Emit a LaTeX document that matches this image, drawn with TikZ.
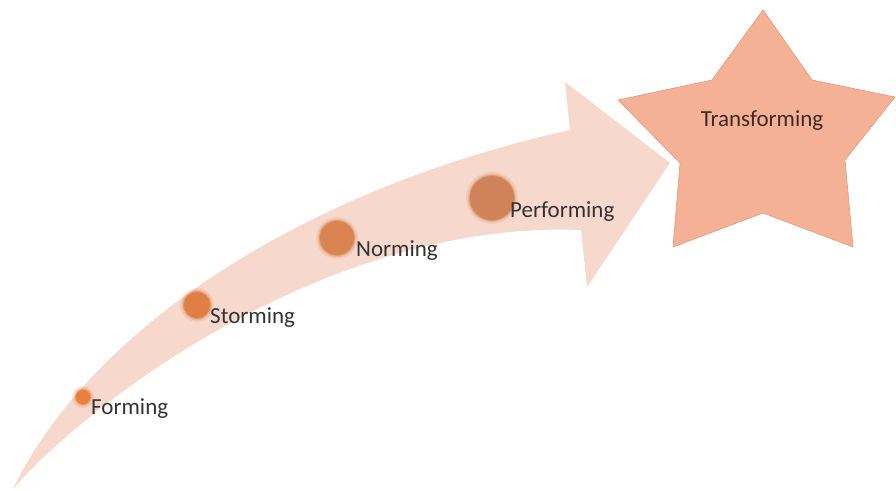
\documentclass[tikz,border=0pt]{standalone}
\usepackage{fontspec}
\setmainfont{Carlito}
\usetikzlibrary{shapes.geometric}
\definecolor{arrowfill}{HTML}{F7D8CC}
\definecolor{starfill}{HTML}{F4B196}
\definecolor{starline}{HTML}{E39A7C}
\definecolor{labelc}{HTML}{333333}
\definecolor{startext}{HTML}{3F2A22}
\definecolor{dotA}{HTML}{E9803F}
\definecolor{dotB}{HTML}{E07F45}
\definecolor{dotC}{HTML}{DA8551}
\definecolor{dotD}{HTML}{D08258}
\tikzset{
  lbl/.style={text=labelc, font=\fontsize{23}{27}\selectfont, inner sep=0pt},
  dotnode/.style={circle, inner sep=0pt, minimum size=#1},
}
\newcommand{\halodot}[4]{% name, x, y, radius, color via \dotcol
  \fill[\dotcol, opacity=0.15] (#2,#3) circle ({#4+4});
  \fill[\dotcol, opacity=0.28] (#2,#3) circle ({#4+2.2});
  \fill[\dotcol, opacity=0.55] (#2,#3) circle ({#4+0.9});
  \node[dotnode={2*#4}, fill=\dotcol] (#1) at (#2,#3) {};
}
\begin{document}
\begin{tikzpicture}[x=1pt,y=-1pt]
\useasboundingbox (0,0) rectangle (896,490);
% curved arrow
\fill[arrowfill] (13,489)
  .. controls (90,330) and (300,190) .. (570,130)
  -- (565,82) -- (670,163) -- (587,287) -- (581,230)
  .. controls (330,220) and (90,400) .. (13,489) -- cycle;
% star
\filldraw[fill=starfill, draw=starline, line width=0.6pt]
  (763,10) -- (812,80) -- (895,97) -- (845,160) -- (853,247)
  -- (763,213) -- (673,247) -- (680,163) -- (618,100) -- (712,80) -- cycle;
\node[text=startext, font=\fontsize{23}{27}\selectfont, inner sep=0pt] (trans) at (762,121) {Transforming};
% dots
\def\dotcol{dotA}\halodot{fdot}{83}{397}{7}
\def\dotcol{dotB}\halodot{sdot}{197}{305}{13}
\def\dotcol{dotC}\halodot{ndot}{337}{238}{17}
\def\dotcol{dotD}\halodot{pdot}{492}{198}{22}
% labels
\node[lbl, anchor=west] (flab) at (91,409) {Forming};
\node[lbl, anchor=west] (slab) at (210,318) {Storming};
\node[lbl, anchor=west] (nlab) at (356,251) {Norming};
\node[lbl, anchor=west] (plab) at (510,212) {Performing};
\end{tikzpicture}
\end{document}
